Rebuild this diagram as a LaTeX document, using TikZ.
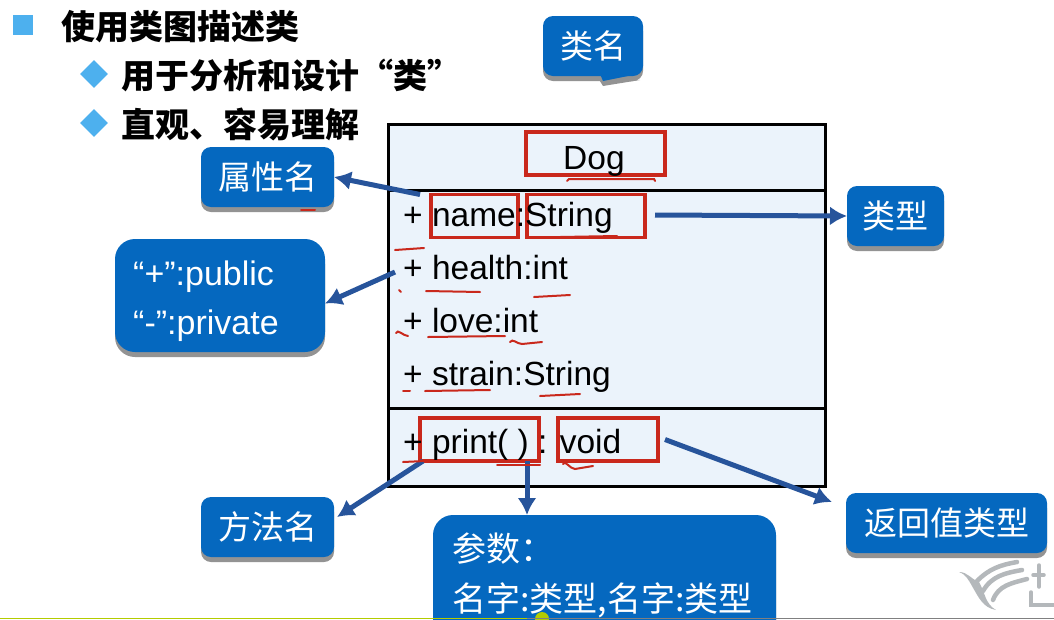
\documentclass[tikz,border=0pt]{standalone}
\usepackage{fontspec}
\setmainfont{Liberation Sans}
\newfontfamily\cjk{Noto Sans CJK SC}
\usepackage{tikz}
\usetikzlibrary{arrows.meta,shapes.geometric,shadows,positioning}

\definecolor{calloutblue}{HTML}{0568BF}
\definecolor{arrowblue}{HTML}{27549B}
\definecolor{bulletblue}{HTML}{4DB0EE}
\definecolor{classfill}{HTML}{EBF3FB}
\definecolor{markred}{HTML}{C9281C}
\definecolor{barlime}{HTML}{B4CC00}
\definecolor{logogrey}{HTML}{B4B8BB}

\tikzset{
  callout/.style={fill=calloutblue, text=white, rounded corners=10pt, inner sep=0pt, outer sep=0pt,
    font=\fontsize{33}{49}\selectfont\cjk,
    drop shadow={shadow xshift=0pt, shadow yshift=-5pt, fill=gray!85, opacity=1}},
  markbox/.style={draw=markred, line width=3.5pt, minimum height=43pt, inner sep=0pt, outer sep=0pt},
  rowtext/.style={anchor=base west, inner sep=0pt, font=\fontsize{33.5}{38}\selectfont},
  headtext/.style={anchor=west, inner sep=0pt, font=\fontsize{34}{38}\selectfont\cjk\bfseries},
  callarrow/.style={-{Latex[length=17pt, width=19pt]}, arrowblue, line width=5pt},
  scribble/.style={markred, line width=2pt, line cap=round},
  logostroke/.style={logogrey, line width=4.5pt, line cap=round}
}

\begin{document}
\begin{tikzpicture}[x=1pt, y=-1pt]
    \useasboundingbox (0,0) rectangle (1054,619);
    \clip (0,0) rectangle (1054,619);

    \node[fill=bulletblue, minimum size=20pt, inner sep=0pt] (bullet0) at (23,25) {};
    \node[fill=bulletblue, diamond, minimum size=28pt, inner sep=0pt] (bullet1) at (94,74) {};
    \node[fill=bulletblue, diamond, minimum size=28pt, inner sep=0pt] (bullet2) at (94,123) {};
    \node[headtext] (head0) at (61,27) {使用类图描述类};
    \node[headtext] (head1) at (121,75) {用于分析和设计“类”};
    \node[headtext] (head2) at (121,124) {直观、容易理解};

    \node[draw, fill=classfill, line width=3pt, minimum width=437pt, minimum height=362pt, inner sep=0pt] (classbox) at (606.5,305) {};
    \coordinate (sep0) at (388,190);
    \coordinate (sep1) at (388,408);
    \draw[line width=3pt] (sep0) -- (sep0 -| classbox.east);
    \draw[line width=3pt] (sep1) -- (sep1 -| classbox.east);

    \node[markbox, minimum width=139pt] (markdog) at (595.5,153.5) {};
    \node[markbox, minimum width=87pt] (markname) at (474.5,216) {};
    \node[markbox, minimum width=118pt] (markstring) at (586,216) {};
    \node[markbox, minimum width=119pt] (markprint) at (479.5,439.5) {};
    \node[markbox, minimum width=100pt] (markvoid) at (608,439.5) {};

    \node[rowtext] (rowdog) at (563,169) {Dog};
    \node[rowtext] (rowname) at (403,226) {+ name:String};
    \node[rowtext] (rowhealth) at (403,279) {+ health:int};
    \node[rowtext] (rowlove) at (403,332) {+ love:int};
    \node[rowtext] (rowstrain) at (403,385) {+ strain:String};
    \node[rowtext] (rowprint) at (403,453) {+ print( ) : void};

    \fill[gray!85] (598,78) -- (603,86) -- (640,80) -- cycle;
    \node[callout, minimum width=100pt, minimum height=60pt] (classname) at (593,46) {类名};
    \fill[calloutblue] (600,74) -- (603,81) -- (638,74) -- cycle;
    \node[callout, minimum width=133pt, minimum height=60pt] (attrname) at (267.5,177) {属性名};
    \node[callout, minimum width=97pt, minimum height=60pt] (typename) at (895.5,216) {类型};
    \node[callout, rounded corners=20pt, minimum width=210pt, minimum height=113pt] (visibility) at (220,295.5) {};
    \node[inner sep=0pt, align=left, text=white, font=\fontsize{34}{49}\selectfont, below right=22pt and 18pt of visibility.north west] (visibilitytext) {“+”:public\\“-”:private};
    \node[callout, minimum width=133pt, minimum height=60pt] (methodname) at (267.5,527) {方法名};
    \node[callout, rounded corners=20pt, minimum width=343pt, minimum height=130pt] (params) at (604.5,580) {};
    \node[inner sep=0pt, align=left, text=white, font=\fontsize{34}{50}\selectfont\cjk, below right=18pt and 19pt of params.north west] (paramstext) {参数：\\名字:类型,名字:类型};
    \node[callout, minimum width=201pt, minimum height=60pt] (returnname) at (946.5,523) {返回值类型};

    \draw[callarrow] ([xshift=-11pt]markname.north west) -- (attrname.east);
    \draw[callarrow] (markstring.east) ++(10pt,1pt) -- (typename.west);
    \draw[callarrow] ([xshift=-8pt, yshift=-5pt]rowhealth.west) -- ([yshift=-8pt]visibility.east);
    \draw[callarrow] ([xshift=3pt]markprint.south west) -- ([xshift=3pt, yshift=-20pt]methodname.north east);
    \draw[callarrow] ([xshift=47.5pt]markprint.south) -- ([xshift=47.5pt]markprint.south |- params.north);
    \draw[callarrow] ([xshift=7pt]markvoid.east) -- ([xshift=-14pt, yshift=-9pt]returnname.north west);

    \draw[scribble] (567,181) -- (569,179) -- (654,179) -- (655,181);
    \draw[scribble] (560,237) -- (617,236);
    \draw[scribble] (395,250) -- (424,248);
    \draw[scribble] (301,210) -- (315,210);
    \draw[scribble] (399,290) -- (401,292);
    \draw[scribble] (426,291) -- (480,292);
    \draw[scribble] (534,297) -- (570,295);
    \draw[scribble] (396,333) to[out=70, in=180] (408,336);
    \draw[scribble] (428,337) -- (505,336);
    \draw[scribble] (510,342) to[out=60, in=180] (522,344) -- (542,342);
    \draw[scribble] (403,391) -- (410,391);
    \draw[scribble] (425,391) -- (490,390);
    \draw[scribble] (540,396) -- (580,394);
    \draw[scribble] (403,462) -- (425,461);
    \draw[scribble] (497,465) -- (540,465);
    \draw[scribble] (563,464) to[out=70, in=180] (575,469) -- (593,466);

    \fill[barlime] (0,617.5) rectangle (527,619);
    \fill[barlime] (542,619) circle (7pt);
    \fill[gray] (527,618) rectangle (1054,619);

    \fill[logogrey] (959,572) to[out=0, in=160] (979,582) to[out=-60, in=150] (996,610) to[out=170, in=-60] (972,586) to[out=120, in=-20] cycle;
    \draw[logostroke] (977,581) to[out=45, in=190] (1017,562);
    \draw[logostroke] (983,591) to[out=60, in=190] (1022,570);
    \draw[logostroke] (993,600) to[out=70, in=195] (1027,579);
    \draw[logostroke, line width=3.5pt] (1039,565) -- (1039,587);
    \draw[logostroke, line width=3.5pt] (1033,575) -- (1044,575);
    \draw[logostroke, line width=3.5pt] (1031,592) -- (1031,605) -- (1054,605);
\end{tikzpicture}
\end{document}
